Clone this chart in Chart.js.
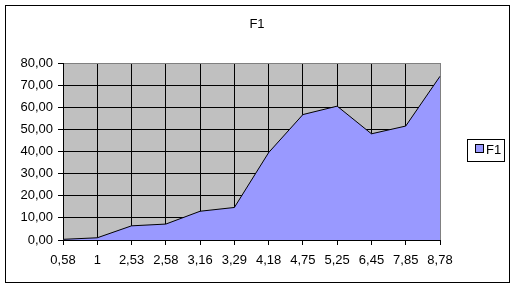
<!DOCTYPE html>
<html>
<head>
<meta charset="utf-8">
<script src="https://cdn.jsdelivr.net/npm/chart.js@4/dist/chart.umd.min.js"></script>
<style>
  html, body { margin: 0; padding: 0; background: #fff; }
  canvas { display: block; }
</style>
</head>
<body>
<canvas id="areaChart" width="516" height="288"></canvas>
<script>
// Data for the area chart
const categories = ['0,58', '1', '2,53', '2,58', '3,16', '3,29', '4,18', '4,75', '5,25', '6,45', '7,85', '8,78'];
const f1Values = [0.3, 1.0, 6.4, 7.2, 13.0, 14.7, 39.5, 56.7, 60.5, 48.0, 51.5, 74.0];
const yTicks = [0, 10, 20, 30, 40, 50, 60, 70, 80];

const FONT = 'Liberation Sans, Arial, sans-serif';

// Excel-like frame, gray plot background, title and boxed legend
const excelFrame = {
    id: 'excelFrame',
    beforeDraw(chart) {
        const ctx = chart.ctx;
        const a = chart.chartArea;
        ctx.save();
        ctx.fillStyle = '#ffffff';
        ctx.fillRect(0, 0, chart.width, chart.height);
        ctx.strokeStyle = '#000000';
        ctx.lineWidth = 1;
        ctx.strokeRect(5.5, 5.5, 504, 277);
        ctx.fillStyle = '#c0c0c0';
        ctx.fillRect(a.left, a.top, a.right - a.left, a.bottom - a.top);
        ctx.restore();
    },
    afterDraw(chart) {
        const ctx = chart.ctx;
        const ds = chart.data.datasets[0];
        ctx.save();
        // title
        ctx.fillStyle = '#000000';
        ctx.font = '13px ' + FONT;
        ctx.textAlign = 'center';
        ctx.textBaseline = 'middle';
        ctx.fillText(ds.label, 257, 24);
        // legend
        ctx.strokeStyle = '#000000';
        ctx.lineWidth = 1;
        ctx.strokeRect(467.5, 139.5, 37, 22);
        ctx.fillStyle = ds.backgroundColor;
        ctx.fillRect(476, 145, 8, 8);
        ctx.strokeRect(475.5, 144.5, 8, 8);
        ctx.fillStyle = '#000000';
        ctx.textAlign = 'left';
        ctx.fillText(ds.label, 486, 150);
        ctx.restore();
    }
};

const ctxArea = document.getElementById('areaChart').getContext('2d');
const areaChart = new Chart(ctxArea, {
    type: 'line',
    data: {
        labels: categories,
        datasets: [{
            label: 'F1',
            data: f1Values,
            fill: 'origin',
            backgroundColor: '#9999ff',
            borderColor: '#000000',
            borderWidth: 1,
            pointRadius: 0,
            tension: 0
        }]
    },
    options: {
        responsive: false,
        animation: false,
        devicePixelRatio: 1,
        layout: {
            padding: { left: 0, top: 63, right: 76, bottom: 18 }
        },
        plugins: {
            legend: { display: false },
            title: { display: false },
            tooltip: { enabled: false }
        },
        scales: {
            x: {
                offset: false,
                afterFit(scale) { scale.height = 30; },
                grid: {
                    color: (c) => (c.index === categories.length - 1 ? '#808080' : '#000000'),
                    tickColor: '#000000',
                    tickLength: 5,
                    lineWidth: 1
                },
                border: { color: '#000000', width: 1 },
                ticks: {
                    color: '#000000',
                    font: { family: FONT, size: 13 },
                    padding: 8,
                    maxRotation: 0,
                    autoSkip: false
                }
            },
            y: {
                min: 0,
                max: 80,
                afterFit(scale) { scale.width = 63; },
                afterBuildTicks(scale) {
                    scale.ticks = yTicks.map(v => ({ value: v }));
                },
                grid: {
                    color: (c) => (c.tick && c.tick.value === 80 ? '#808080' : '#000000'),
                    tickColor: '#000000',
                    tickLength: 5,
                    lineWidth: 1
                },
                border: { color: '#000000', width: 1 },
                ticks: {
                    color: '#000000',
                    font: { family: FONT, size: 13 },
                    padding: 5,
                    callback: (v) => v.toFixed(2).replace('.', ',')
                }
            }
        }
    },
    plugins: [excelFrame]
});
</script>
</body>
</html>
